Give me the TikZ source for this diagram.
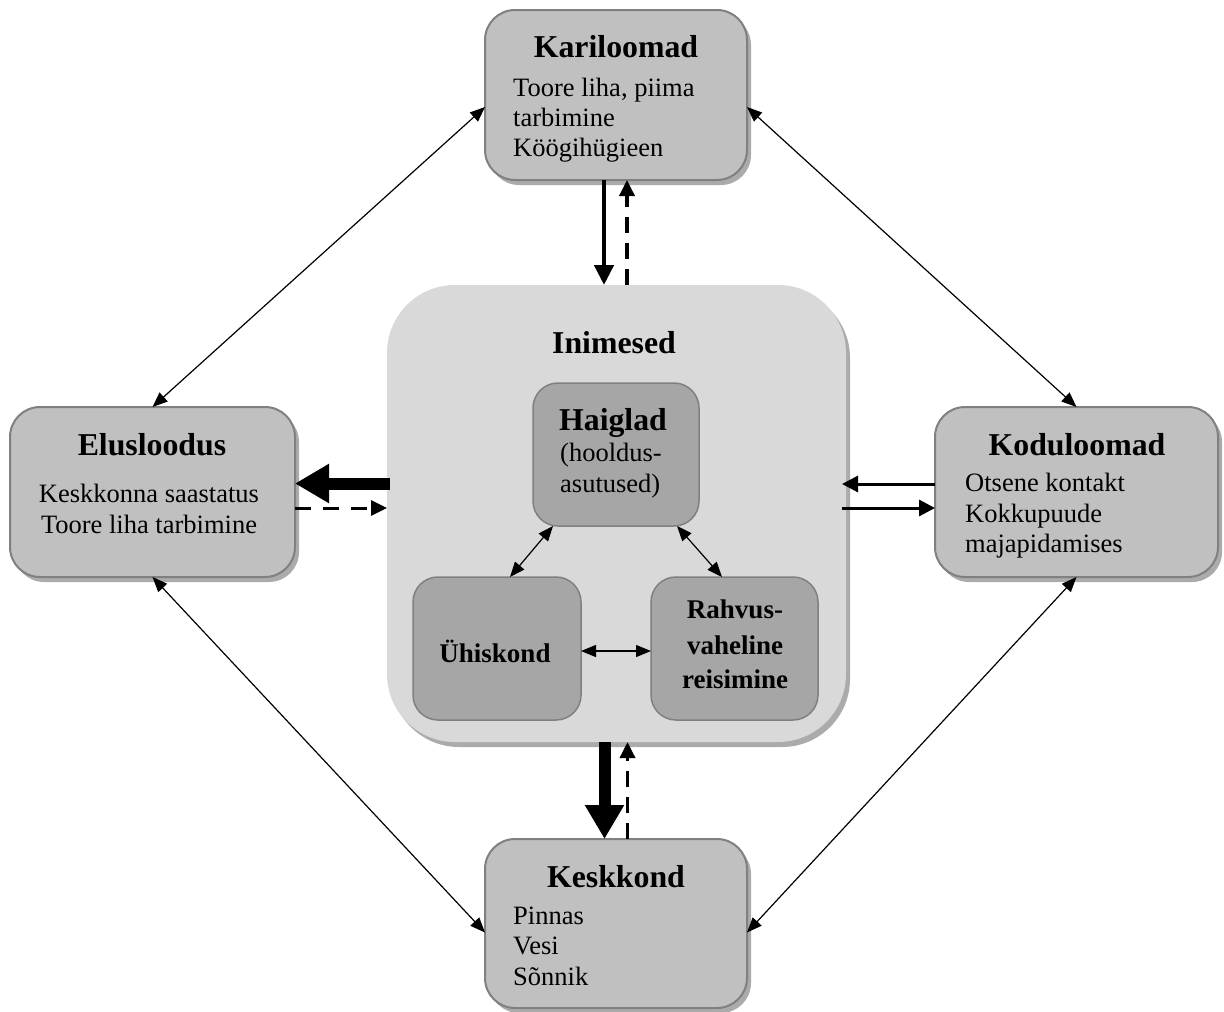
\documentclass[tikz,border=0pt]{standalone}
\usepackage{fontspec}
\setmainfont{Liberation Serif}
\usetikzlibrary{arrows.meta,shadows,calc}
\definecolor{boxfill}{HTML}{C0C0C0}
\definecolor{boxline}{HTML}{808080}
\definecolor{innerfill}{HTML}{A6A6A6}
\definecolor{bigfill}{HTML}{D9D9D9}
\definecolor{shadowgray}{HTML}{ABABAB}
\begin{document}
\begin{tikzpicture}[x=1pt,y=-1pt,
  outerbox/.style={draw=boxline, line width=2pt, fill=boxfill, rounded corners=30pt,
    inner sep=0pt, outer sep=0pt,
    drop shadow={shadow xshift=4pt, shadow yshift=-5pt, fill=shadowgray, opacity=1}},
  bigbox/.style={fill=bigfill, rounded corners=68pt, inner sep=0pt, outer sep=0pt,
    drop shadow={shadow xshift=4pt, shadow yshift=-5pt, fill=shadowgray, opacity=1}},
  innerbox/.style={draw=boxline, line width=1.5pt, fill=innerfill, rounded corners=25pt,
    inner sep=0pt, outer sep=0pt},
  titletext/.style={anchor=base, inner sep=0pt, font=\fontsize{31.8}{36}\selectfont\bfseries},
  innertitle/.style={anchor=base, inner sep=0pt, font=\fontsize{27}{33}\selectfont\bfseries},
  bodytext/.style={anchor=base west, inner sep=0pt, font=\fontsize{26.5}{30}\selectfont},
  thinarrow/.style={line width=1.2pt, {Triangle[length=15pt,width=12pt]}-{Triangle[length=15pt,width=12pt]}},
  mediumarrow/.style={line width=4.5pt, -{Triangle[length=20pt,width=19pt]}},
  mediumdash/.style={line width=3.5pt, dash pattern=on 16pt off 10pt, -{Triangle[length=16pt,width=15pt]}},
  sidearrow/.style={line width=3pt, -{Triangle[length=16pt,width=16pt]}},
  sidedash/.style={line width=3pt, dash pattern=on 16pt off 12pt, -{Triangle[length=16pt,width=15pt]}},
  thickarrow/.style={line width=12pt, -{Triangle[length=34pt,width=37pt]}},
]
\useasboundingbox (0,0) rectangle (1224,1012);
\fill[white] (0,0) rectangle (1224,1012);

% boxes
\node[bigbox, minimum width=459pt, minimum height=457pt] (ini) at (616.5,513.5) {};
\node[outerbox, minimum width=262pt, minimum height=170pt] (kar) at (616,95) {};
\node[outerbox, minimum width=285pt, minimum height=170pt] (elu) at (152.5,492) {};
\node[outerbox, minimum width=283pt, minimum height=170pt] (kod) at (1076.5,492) {};
\node[outerbox, minimum width=262pt, minimum height=169pt] (kes) at (616,923.5) {};
\node[innerbox, minimum width=166pt, minimum height=143pt] (hai) at (616,454.5) {};
\node[innerbox, minimum width=168pt, minimum height=143pt] (uhi) at (497,648.5) {};
\node[innerbox, minimum width=167pt, minimum height=143pt] (rah) at (734.5,648.5) {};

% texts
\node[titletext] (karT) at (616,57) {Kariloomad};
\node[bodytext] (karA) at (513,96) {Toore liha, piima};
\node[bodytext] (karB) at (513,126) {tarbimine};
\node[bodytext] (karC) at (513,156) {Köögihügieen};

\node[titletext] (eluT) at (152,455) {Elusloodus};
\node[bodytext, anchor=base] (eluA) at (149,502) {Keskkonna saastatus};
\node[bodytext, anchor=base] (eluB) at (149,533) {Toore liha tarbimine};

\node[titletext] (kodT) at (1077,455) {Koduloomad};
\node[bodytext] (kodA) at (965,491) {Otsene kontakt};
\node[bodytext] (kodB) at (965,522) {Kokkupuude};
\node[bodytext] (kodC) at (965,552) {majapidamises};

\node[titletext] (kesT) at (616,887) {Keskkond};
\node[bodytext] (kesA) at (513,924) {Pinnas};
\node[bodytext] (kesB) at (513,954) {Vesi};
\node[bodytext] (kesC) at (513,985) {Sõnnik};

\node[titletext] (iniT) at (614,353) {Inimesed};
\node[titletext] (haiT) at (613,430) {Haiglad};
\node[bodytext] (haiA) at (560,461) {(hooldus-};
\node[bodytext] (haiB) at (560,492) {asutused)};
\node[innertitle] (uhiT) at (495,662) {Ühiskond};
\node[innertitle] (rahA) at (735,618) {Rahvus-};
\node[innertitle] (rahB) at (735,654) {vaheline};
\node[innertitle] (rahC) at (735,688) {reisimine};

% diagonal connectors
\draw[thinarrow] ([yshift=-12pt]kar.west) -- (elu.north);
\draw[thinarrow] ([yshift=-12pt]kar.east) -- (kod.north);
\draw[thinarrow] (elu.south) -- ([yshift=-9pt]kes.west);
\draw[thinarrow] (kod.south) -- ([yshift=-9pt]kes.east);

% inner connectors
\draw[thinarrow] ([xshift=20pt]hai.south west) -- ([xshift=13pt]uhi.north);
\draw[thinarrow] ([xshift=-22pt]hai.south east) -- ([xshift=-12.5pt]rah.north);
\draw[thinarrow] ([yshift=-2.5pt]uhi.east) -- ([yshift=-2.5pt]rah.west);

% top
\draw[mediumarrow] ([xshift=-12pt]kar.south) -- ([xshift=-12pt]kar.south |- ini.north);
\draw[mediumdash] ([xshift=11pt]kar.south |- ini.north) -- ([xshift=11pt]kar.south);

% bottom
\draw[thickarrow] ([xshift=-12pt]ini.south) -- ([xshift=-12pt]ini.south |- kes.north);
\draw[mediumdash] ([xshift=11pt]ini.south |- kes.north) -- ([xshift=11pt]ini.south);

% left
\draw[thickarrow] ([yshift=30pt,xshift=3pt]ini.west) -- ([yshift=30pt]ini.west -| elu.east);
\draw[sidedash] ([yshift=5.5pt]ini.west -| elu.east) -- ([yshift=5.5pt]ini.west);

% right
\draw[sidearrow] ([yshift=29.5pt]kod.west |- ini.east) -- ([yshift=29.5pt,xshift=-4pt]ini.east);
\draw[sidearrow] ([yshift=5.5pt,xshift=-4pt]ini.east) -- ([yshift=5.5pt]kod.west |- ini.east);
\end{tikzpicture}
\end{document}
